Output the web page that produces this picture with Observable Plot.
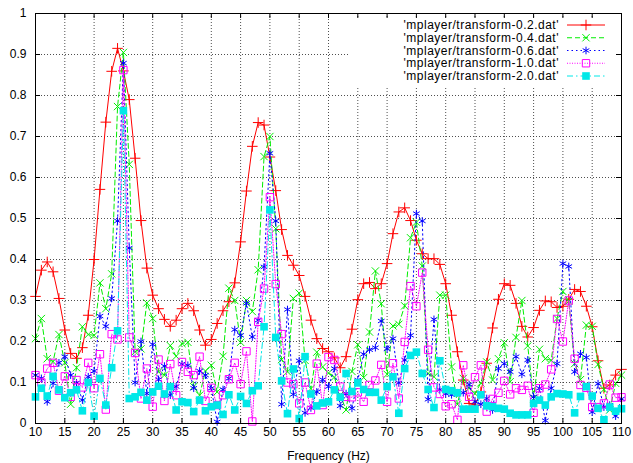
<!DOCTYPE html>
<html><head><meta charset="utf-8">
<script src="https://cdn.jsdelivr.net/npm/d3@7"></script>
<script src="https://cdn.jsdelivr.net/npm/@observablehq/plot@0.6"></script>
<style>
body{margin:0;background:#fff;font-family:"Liberation Sans",Arial,sans-serif;}
#wrap{position:relative;width:633px;height:463px;}
#legend{position:absolute;left:0;top:0;pointer-events:none;}
</style></head><body><div id="wrap"></div>
<script>
const freqs = [10,11,12,13,14,15,16,17,18,19,20,21,22,23,24,25,26,27,28,29,30,31,32,33,34,35,36,37,38,39,40,41,42,43,44,45,46,47,48,49,50,51,52,53,54,55,56,57,58,59,60,61,62,63,64,65,66,67,68,69,70,71,72,73,74,75,76,77,78,79,80,81,82,83,84,85,86,87,88,89,90,91,92,93,94,95,96,97,98,99,100,101,102,103,104,105,106,107,108,109,110];
const seriesNames = ["'mplayer/transform-0.2.dat'","'mplayer/transform-0.4.dat'","'mplayer/transform-0.6.dat'","'mplayer/transform-1.0.dat'","'mplayer/transform-2.0.dat'"];
const s02 = [
0.31,0.374,0.394,0.37,0.305,0.228,0.171,0.159,0.185,0.264,
0.40,0.571,0.735,0.859,0.915,0.86,0.79,0.647,0.495,0.379,
0.313,0.28,0.254,0.237,0.252,0.28,0.293,0.275,0.228,0.191,
0.205,0.244,0.275,0.297,0.343,0.443,0.567,0.676,0.734,0.728,
0.65,0.568,0.473,0.41,0.386,0.361,0.31,0.252,0.207,0.183,
0.175,0.16,0.136,0.163,0.23,0.302,0.341,0.344,0.329,0.341,
0.39,0.463,0.516,0.526,0.495,0.447,0.414,0.402,0.402,0.388,
0.341,0.264,0.175,0.106,0.049,0.045,0.077,0.147,0.233,0.303,
0.341,0.337,0.293,0.237,0.211,0.234,0.276,0.299,0.297,0.283,
0.286,0.303,0.327,0.322,0.286,0.236,0.153,0.086,0.094,0.118,
0.132];
const s04 = [
0.207,0.256,0.158,0.151,0.217,0.148,0.047,0.136,0.236,0.217,
0.215,0.343,0.28,0.365,0.773,0.905,0.632,0.175,0.182,0.294,
0.256,0.126,0.118,0.19,0.164,0.195,0.198,0.09,0.069,0.128,
0.142,0.077,0.164,0.33,0.30,0.198,0.30,0.273,0.375,0.651,
0.70,0.475,0.156,0.126,0.305,0.318,0.154,0.085,0.174,0.138,
0.123,0.113,0.07,0.033,0.127,0.192,0.112,0.223,0.372,0.292,
0.12,0.238,0.242,0.287,0.453,0.491,0.384,0.122,0.114,0.313,
0.313,0.138,0.047,0.11,0.086,0.073,0.099,0.15,0.106,0.158,
0.197,0.102,0.21,0.30,0.189,0.061,0.181,0.158,0.154,0.256,
0.322,0.298,0.146,0.107,0.24,0.237,0.144,0.083,0.033,0.098,
0.118];
const s06 = [
0.118,0.11,0.053,0.098,0.148,0.163,0.118,0.099,0.057,0.114,
0.128,0.262,0.237,0.305,0.494,0.879,0.428,0.1,0.2,0.073,
0.193,0.107,0.14,0.069,0.09,0.145,0.142,0.086,0.128,0.118,
0.086,0.004,0.083,0.11,0.229,0.215,0.293,0.211,0.252,0.382,
0.659,0.494,0.047,0.278,0.071,0.153,0.026,0.038,0.077,0.107,
0.09,0.134,0.043,0.073,0.037,0.106,0.169,0.18,0.185,0.25,
0.182,0.207,0.099,0.155,0.215,0.512,0.494,0.059,0.254,0.082,
0.073,0.07,0.075,0.075,0.095,0.053,0.047,0.061,0.033,0.134,
0.146,0.126,0.163,0.12,0.155,0.065,0.086,0.007,0.086,0.146,
0.39,0.383,0.126,0.17,0.161,0.028,0.097,0.04,0.045,0.018,
0.06];
const s10 = [
0.118,0.1,0.134,0.148,0.08,0.115,0.065,0.106,0.088,0.148,
0.086,0.169,0.034,0.218,0.205,0.862,0.21,0.172,0.061,0.134,
0.041,0.156,0.055,0.145,0.069,0.15,0.126,0.118,0.163,0.055,
0.087,0.045,0.069,0.108,0.148,0.096,0.176,0.005,0.248,0.329,
0.552,0.34,0.218,0.1,0.096,0.049,0.1,0.033,0.146,0.045,
0.162,0.155,0.09,0.065,0.064,0.076,0.053,0.094,0.105,0.143,
0.053,0.147,0.061,0.199,0.335,0.286,0.368,0.18,0.088,0.072,
0.042,0.047,0.009,0.142,0.065,0.113,0.142,0.029,0.06,0.075,
0.104,0.071,0.086,0.082,0.092,0.026,0.086,0.095,0.132,0.255,
0.2,0.3,0.158,0.094,0.087,0.04,0.04,0.049,0.095,0.063,
0.064];
const s20 = [
0.065,0.086,0.067,0.115,0.082,0.063,0.075,0.082,0.031,0.1,
0.018,0.11,0.045,0.136,0.226,0.763,0.061,0.065,0.076,0.057,
0.077,0.091,0.072,0.09,0.033,0.053,0.051,0.029,0.057,0.031,
0.041,0.045,0.022,0.07,0.033,0.066,0.049,0.08,0.092,0.236,
0.521,0.21,0.104,0.024,0.133,0.012,0.163,0.072,0.043,0.05,
0.053,0.082,0.064,0.122,0.078,0.099,0.083,0.076,0.076,0.057,
0.09,0.114,0.025,0.134,0.166,0.174,0.122,0.083,0.039,0.153,
0.083,0.08,0.075,0.035,0.035,0.035,0.07,0.043,0.041,0.037,
0.035,0.025,0.021,0.021,0.021,0.049,0.057,0.045,0.065,0.073,
0.072,0.07,0.026,0.066,0.09,0.067,0.037,0.009,0.04,0.03,
0.036];
const xTicks = [10,15,20,25,30,35,40,45,50,55,60,65,70,75,80,85,90,95,100,105,110];
const yTicks = [0,0.1,0.2,0.3,0.4,0.5,0.6,0.7,0.8,0.9,1];
const yTickLabels = ["0","0.1","0.2","0.3","0.4","0.5","0.6","0.7","0.8","0.9","1"];

const allValues = [s02, s04, s06, s10, s20];
const styles = [
  {color:"#ff0000", dash:null, symbol:"plus", r:3.5, filled:false},
  {color:"#00ee00", dash:"5,3", symbol:"times", r:3.4, filled:false},
  {color:"#0000ff", dash:"1.5,3", symbol:"asterisk", r:3.6, filled:false},
  {color:"#ff00ff", dash:"1,1.5", symbol:"square2", r:4.7, filled:false},
  {color:"#00e8e8", dash:"6,3,1.5,3", symbol:"square", r:4.3, filled:true}
];
const series = allValues.map((vals, k) => freqs.map((f, i) => ({f, v: vals[i], k})));

const W = 633, H = 463, mL = 35, mR = 12, mT = 13, mB = 40;
const pw = W - mL - mR, ph = H - mT - mB;

const marks = [
  Plot.gridX(xTicks, {stroke:"#222", strokeOpacity:1, strokeWidth:0.8, strokeDasharray:"1,2"}),
  Plot.gridY(yTicks, {stroke:"#222", strokeOpacity:1, strokeWidth:0.8, strokeDasharray:"1,2"})
];
series.forEach((data, k) => {
  const st = styles[k];
  marks.push(Plot.line(data, {x:"f", y:"v", stroke:st.color, strokeWidth:1, strokeDasharray:st.dash}));
  marks.push(Plot.dot(data, st.filled
    ? {x:"f", y:"v", symbol:st.symbol, r:st.r, fill:st.color, stroke:"none"}
    : {x:"f", y:"v", symbol:st.symbol, r:st.r, stroke:st.color, fill:"none", strokeWidth:1}));
});
marks.push(
  Plot.frame({stroke:"#000", strokeWidth:1}),
  Plot.ruleX(xTicks, {stroke:"#000", insetTop: ph - 5}),
  Plot.ruleX(xTicks, {stroke:"#000", insetBottom: ph - 5}),
  Plot.ruleY(yTicks, {stroke:"#000", insetRight: pw - 5}),
  Plot.ruleY(yTicks, {stroke:"#000", insetLeft: pw - 5}),
  Plot.axisX(xTicks, {tickSize:0, tickPadding:4, fontSize:12, label:"Frequency (Hz)", labelAnchor:"center", labelArrow:"none", labelOffset:36}),
  Plot.axisY(yTicks, {tickSize:0, tickPadding:9, fontSize:12, tickFormat: d => yTickLabels[yTicks.indexOf(d)], label:null})
);

const chart = Plot.plot({
  width: W, height: H,
  marginLeft: mL, marginRight: mR, marginTop: mT, marginBottom: mB,
  style: {fontFamily: "'Liberation Sans', Arial, sans-serif", fontSize: "12px", color:"#000", background:"#fff"},
  x: {domain:[10,110]},
  y: {domain:[0,1]},
  marks
});
const wrap = document.getElementById("wrap");
wrap.appendChild(chart);

// key, gnuplot style (top right, hides grid under it)
const leg = d3.select(wrap).append("svg").attr("id","legend").attr("width",W).attr("height",H);
leg.append("rect").attr("x",349).attr("y",19).attr("width",266).attr("height",67).attr("fill","#fff");
const symMap = {plus:d3.symbolPlus, times:d3.symbolTimes, asterisk:d3.symbolAsterisk, square2:d3.symbolSquare2, square:d3.symbolSquare};
seriesNames.forEach((name, k) => {
  const st = styles[k];
  const y = 25 + k * 12.75;
  leg.append("text").attr("x",559).attr("y",y).attr("text-anchor","end").attr("dy","0.35em")
    .attr("font-family","'Liberation Sans', Arial, sans-serif").attr("font-size",12)
    .attr("letter-spacing","0.5px").attr("fill","#000").text(name);
  leg.append("line").attr("x1",567).attr("x2",605).attr("y1",y).attr("y2",y)
    .attr("stroke",st.color).attr("stroke-width",1).attr("stroke-dasharray",st.dash);
  leg.append("path").attr("transform",`translate(586,${y})`)
    .attr("d", d3.symbol(symMap[st.symbol], Math.PI*st.r*st.r)())
    .attr("fill", st.filled ? st.color : "none").attr("stroke", st.filled ? "none" : st.color).attr("stroke-width",1);
});
</script></body></html>
